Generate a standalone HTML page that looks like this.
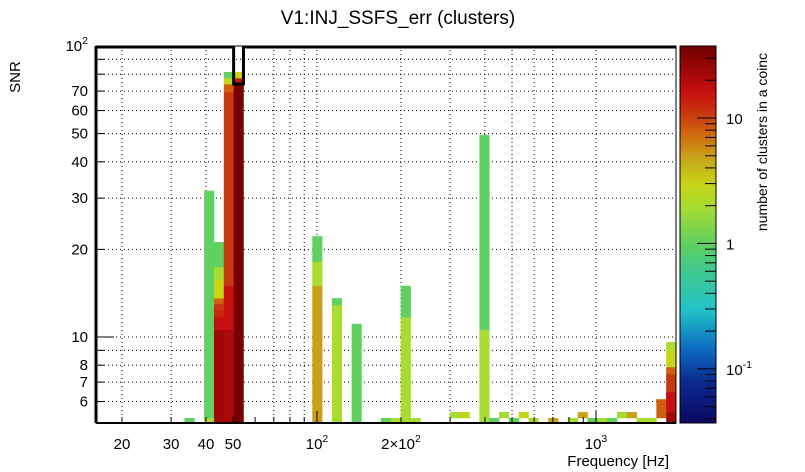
<!DOCTYPE html>
<html><head><meta charset="utf-8">
<style>
html,body{margin:0;padding:0;background:#fff;}
svg{display:block;font-family:"Liberation Sans",sans-serif;}
</style></head>
<body>
<svg id="chart" width="805" height="472" viewBox="0 0 805 472">
  <rect x="0" y="0" width="805" height="472" fill="#fff"/>
  <text x="398" y="24" font-size="19" text-anchor="middle">V1:INJ_SSFS_err (clusters)</text>
  <g id="grid"></g>
  <g id="cells"></g>
  <g id="axes"></g>
  <g id="cbar"></g>
  <text transform="translate(20,77) rotate(-90)" font-size="15" text-anchor="middle">SNR</text>
  <text x="669" y="466" font-size="15" text-anchor="end">Frequency [Hz]</text>
  <text transform="translate(767,142) rotate(-90)" font-size="14" text-anchor="middle">number of clusters in a coinc</text>
</svg>
<script>
// ---- data ----
const binIndex = [9,11,11,12,12,12,12,12,12,12,12,13,13,13,13,13,13,14,14,14,22,22,22,24,24,26,29,30,31,31,32,36,36,37,37,39,39,40,41,41,42,43,43,44,46,48,49,49,50,51,52,53,53,54,54,55,56,57,57,58,58,58,58,58,58,58];
const snrLow  = [5.06,5.06,5.27,5.06,10.6,11.7,12.4,13.0,13.6,15.7,17.4,5.06,10.6,15.0,69.5,74.0,77.6,5.06,74.0,77.6,5.06,15.0,18.2,5.06,12.9,5.06,5.06,5.06,5.06,11.7,5.06,5.27,5.52,5.27,5.52,5.06,10.6,5.06,5.27,5.52,5.06,5.27,5.52,5.06,5.06,5.06,5.27,5.52,5.06,5.06,5.06,5.27,5.52,5.27,5.52,5.06,5.06,5.27,6.12,5.06,5.52,6.47,7.46,7.89,9.09,5.84];
const snrHigh = [5.27,5.27,31.8,10.6,11.7,12.4,13.0,13.6,15.7,17.4,21.2,10.6,15.0,69.5,74.0,77.6,81.4,74.0,77.6,81.4,15.0,18.2,22.2,12.9,13.6,11.1,5.27,5.27,11.7,15.0,5.27,5.52,5.52,5.52,5.52,10.6,49.4,5.27,5.52,5.52,5.27,5.52,5.52,5.27,5.27,5.27,5.52,5.52,5.27,5.27,5.27,5.52,5.52,5.52,5.52,5.27,5.27,6.12,6.12,5.52,6.47,7.46,7.89,9.09,9.61,6.47];
const counts  = [1,2,1,24,17,13,11,8,3,2,1,22,16,11,8,3,1,35,16,3,5,2,1,2,1,1,1,2,2,1,2,2,2,3,1,2,1,1,2,1,1,3,1,2,5,2,5,3,1,2,1,2,1,5,1,2,2,8,3,24,16,11,8,3,2,16];
const xTickVals = [20,30,40,50,100,200,1000];
const xTickText = ["20","30","40","50","10^2","2×10^2","10^3"];
const xGridVals = [20,30,40,50,70,80,90,100,200,300,400,500,600,700,1000];
const yTickVals = [6,7,8,10,20,30,40,50,60,70,100];
const yTickText = ["6","7","8","10","20","30","40","50","60","70","10^2"];
const yGridVals = [6,7,8,9,10,20,30,40,50,60,70,80,90];
const cbTickVals = [0.1,1,10];
const cbTickText = ["10^-1","1","10"];
// palette stops (count -> colour)
const palCounts = [0.037,0.08,0.15,0.3,0.6,1,2,3,5,8,11,16,24,37.5];
const palColors = ["#0c0860","#0b2a90","#0d6ec0","#22c4c8","#40c890","#60d060","#a8dc30","#c8d418","#c8a018","#d06010","#c83810","#c81010","#a00808","#700000"];

// ---- geometry ----
const X0=96, X1=676, Y0=46, Y1=423;
const NB=59;
const L100=317, DEC=279;
const xPix = f => L100 + DEC*(Math.log10(f)-2);
const fMin = Math.pow(10, 2+(X0-L100)/DEC), fMax = Math.pow(10, 2+(X1-L100)/DEC);
const binEdge = i => xPix(Math.pow(10, Math.log10(fMin) + i*(Math.log10(fMax)-Math.log10(fMin))/NB));
const yPix = s => Y0 + 291*(2-Math.log10(s));
const CB0=46, CB1=423, CBX=680, CBW=36;
const cMin=0.037, cMax=37.5;
const cbY = c => CB1 - (CB1-CB0)*(Math.log10(c)-Math.log10(cMin))/(Math.log10(cMax)-Math.log10(cMin));

function hexToRgb(h){return [1,3,5].map(k=>parseInt(h.substr(k,2),16));}
function colorFor(c){
  const lc=Math.log10(Math.max(cMin,Math.min(cMax,c)));
  for(let k=0;k<palCounts.length-1;k++){
    const a=Math.log10(palCounts[k]), b=Math.log10(palCounts[k+1]);
    if(lc<=b){const t=(lc-a)/(b-a);const A=hexToRgb(palColors[k]),B=hexToRgb(palColors[k+1]);
      return 'rgb('+A.map((v,j)=>Math.round(v+(B[j]-v)*t)).join(',')+')';}
  }
  return palColors[palColors.length-1];
}
const NS='http://www.w3.org/2000/svg';
function mk(tag,attrs,parent){const e=document.createElementNS(NS,tag);for(const k in attrs)e.setAttribute(k,attrs[k]);parent.appendChild(e);return e;}
function supText(parent,x,y,str,anchor,size){
  const t=mk('text',{x:x,y:y,'font-size':size,'text-anchor':anchor},parent);
  const parts=str.split('^');
  t.appendChild(document.createTextNode(parts[0]));
  if(parts[1]){const s=mk('tspan',{dy:-7,'font-size':size*0.7},t);s.textContent=parts[1];}
  return t;
}
const grid=document.getElementById('grid'), cells=document.getElementById('cells'), axes=document.getElementById('axes'), cbar=document.getElementById('cbar');

// grid
xGridVals.forEach(v=>{const l=mk('line',{x1:xPix(v),x2:xPix(v),y1:Y0,y2:Y1,stroke:'#000','stroke-width':1,'stroke-dasharray':'1,3'},grid);

});
yGridVals.forEach(v=>{const l=mk('line',{x1:X0,x2:X1,y1:yPix(v),y2:yPix(v),stroke:'#000','stroke-width':1,'stroke-dasharray':'1,3'},grid);

});

// cells
for(let i=0;i<binIndex.length;i++){
  if(counts[i]<=0)continue;
  const xa=binEdge(binIndex[i]), xb=binEdge(binIndex[i]+1);
  const ya=yPix(snrHigh[i]), yb=yPix(snrLow[i]);
  const r=mk('rect',{x:xa,y:ya,width:xb-xa+0.3,height:yb-ya+0.3,fill:colorFor(counts[i])},cells);
  
  
}

// frame & top contour
mk('rect',{x:X0,y:Y0,width:X1-X0,height:Y1-Y0,fill:'none',stroke:'#000','stroke-width':1},axes);
const contour=mk('path',{d:`M${X0} ${Y0+1} H${binEdge(14)} V${yPix(74)} H${binEdge(15)} V${Y0+1} H${X1}`,fill:'none',stroke:'#000','stroke-width':3},axes);


mk('line',{x1:X0,x2:X0,y1:Y0,y2:Y1,stroke:'#000','stroke-width':3},axes);
mk('line',{x1:X0,x2:X1,y1:Y1,y2:Y1,stroke:'#000','stroke-width':2},axes);

// x ticks
for(let d=10;d<=1000;d*=10){for(let m=1;m<10;m++){const v=d*m;const x=xPix(v);if(x<X0||x>X1)continue;
  const len=(m===1)?12:6;mk('line',{x1:x,x2:x,y1:Y1,y2:Y1-len,stroke:'#000','stroke-width':1},axes);}}
xTickVals.forEach((v,i)=>{const t=supText(axes,xPix(v),449,xTickText[i],'middle',15);

});
// y ticks
for(let d=1;d<=100;d*=10){for(let m=1;m<10;m++){const v=d*m;const y=yPix(v);if(y<Y0-0.5||y>Y1)continue;
  const len=(m===1)?18:8;mk('line',{x1:X0,x2:X0+len,y1:y,y2:y,stroke:'#000','stroke-width':1},axes);}}
yTickVals.forEach((v,i)=>{const t=supText(axes,88,yPix(v)+5,yTickText[i],'end',15);

});

// color bar
const N=120;
for(let k=0;k<N;k++){const y=CB1-(k+1)*(CB1-CB0)/N;
  const lc=Math.log10(cMin)+(k+0.5)/N*(Math.log10(cMax)-Math.log10(cMin));
  mk('rect',{x:CBX,y:y,width:CBW,height:(CB1-CB0)/N+0.5,fill:colorFor(Math.pow(10,lc))},cbar);}
mk('rect',{x:CBX,y:CB0,width:CBW,height:CB1-CB0,fill:'none',stroke:'#000','stroke-width':1},cbar);
for(let d=0.01;d<=10;d*=10){for(let m=1;m<10;m++){const v=d*m;if(v<cMin||v>cMax)continue;const y=cbY(v);
  const len=(m===1)?19:11;mk('line',{x1:CBX+CBW,x2:CBX+CBW-len,y1:y,y2:y,stroke:'#000','stroke-width':1},cbar);}}
cbTickVals.forEach((v,i)=>{const t=supText(cbar,726,cbY(v)+6,cbTickText[i],'start',15);

});
</script>
</body></html>
